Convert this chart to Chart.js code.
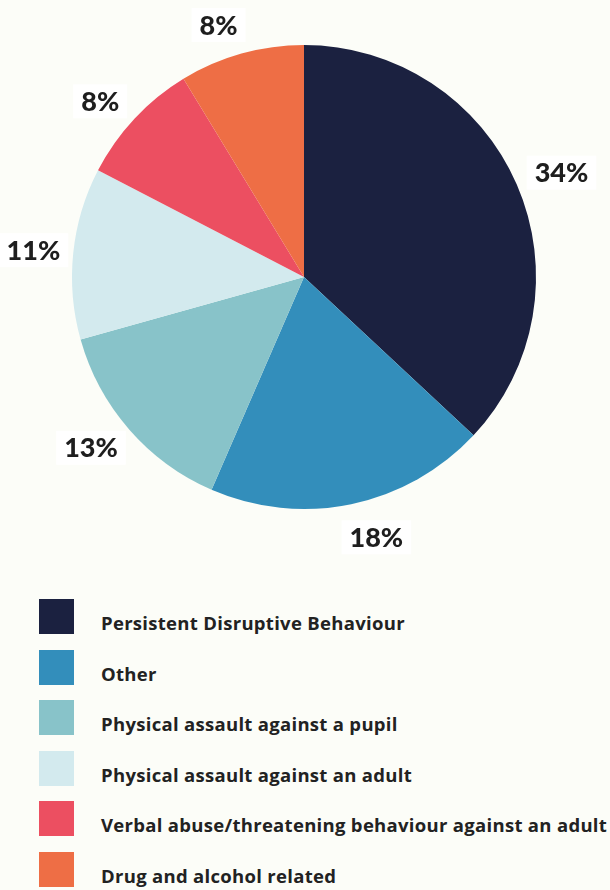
<!DOCTYPE html>
<html>
<head>
<meta charset="utf-8">
<script src="https://cdn.jsdelivr.net/npm/chart.js@4"></script>
<style>
  html, body { margin: 0; padding: 0; background: #fcfdf8; }
  body { width: 610px; height: 890px; overflow: hidden; font-family: 'Open Sans', sans-serif; }
  .chart-wrap { position: relative; width: 610px; height: 570px; }
  .legend { position: absolute; left: 0; top: 599px; width: 610px; }
  .legend .row { position: relative; height: 50.6px; }
  .legend .box { position: absolute; left: 39px; top: 0; width: 35px; height: 35px; }
  .legend .txt { position: absolute; left: 101px; top: 11px; font-size: 18.5px; font-weight: 700; color: #222; white-space: nowrap; letter-spacing: 0.3px; }
</style>
</head>
<body>
<div class="chart-wrap"><canvas id="Exclusions-Pie" width="610" height="570"></canvas></div>
<div class="legend" id="legend"></div>
<script>
const categories = ['Persistent Disruptive Behaviour', 'Other', 'Physical assault against a pupil',
  'Physical assault against an adult', 'Verbal abuse/threatening behaviour against an adult', 'Drug and alcohol related'];
const values = [34, 18, 13, 11, 8, 8];
const valueLabels = ['34%', '18%', '13%', '11%', '8%', '8%'];
const sliceColors = ['#1b2140', '#338ebb', '#88c3c9', '#d3eaee', '#ec4f61', '#ee6e45'];
// small nudges so the outside labels sit where the original puts them
const labelNudge = [[8, 4], [17, -6], [-8, -8], [0, 1], [-5, 10], [-12, 10]];

// labels outside the pie
const outsideLabels = {
  id: 'outsideLabels',
  afterDatasetsDraw(chart) {
    const ctx = chart.ctx;
    const meta = chart.getDatasetMeta(0);
    ctx.save();
    ctx.font = '900 27px Lato';
    ctx.textAlign = 'center';
    ctx.textBaseline = 'middle';
    meta.data.forEach((arc, i) => {
      const mid = (arc.startAngle + arc.endAngle) / 2;
      const r = arc.outerRadius + 40;
      const x = arc.x + Math.cos(mid) * r + labelNudge[i][0];
      const y = arc.y + Math.sin(mid) * r + labelNudge[i][1];
      const w = ctx.measureText(valueLabels[i]).width;
      ctx.fillStyle = '#ffffff';
      ctx.fillRect(x - w / 2 - 8, y - 17, w + 16, 34);
      ctx.fillStyle = '#1e1e1e';
      ctx.fillText(valueLabels[i], x, y + 1);
    });
    ctx.restore();
  }
};

const pieCtx = document.getElementById('Exclusions-Pie').getContext('2d');
const pieChart = new Chart(pieCtx, {
  type: 'pie',
  data: {
    labels: categories,
    datasets: [{
      data: values,
      backgroundColor: sliceColors,
      borderWidth: 0
    }]
  },
  options: {
    responsive: false,
    animation: false,
    layout: {
      padding: { top: 45, bottom: 61, left: 72, right: 74 }
    },
    plugins: {
      legend: { display: false },
      tooltip: { enabled: false }
    }
  },
  plugins: [outsideLabels]
});

// legend
const legendEl = document.getElementById('legend');
categories.forEach((name, i) => {
  const row = document.createElement('div');
  row.className = 'row';
  row.innerHTML = '<div class="box" style="background:' + sliceColors[i] + '"></div><div class="txt">' + name + '</div>';
  legendEl.appendChild(row);
});
</script>
</body>
</html>
